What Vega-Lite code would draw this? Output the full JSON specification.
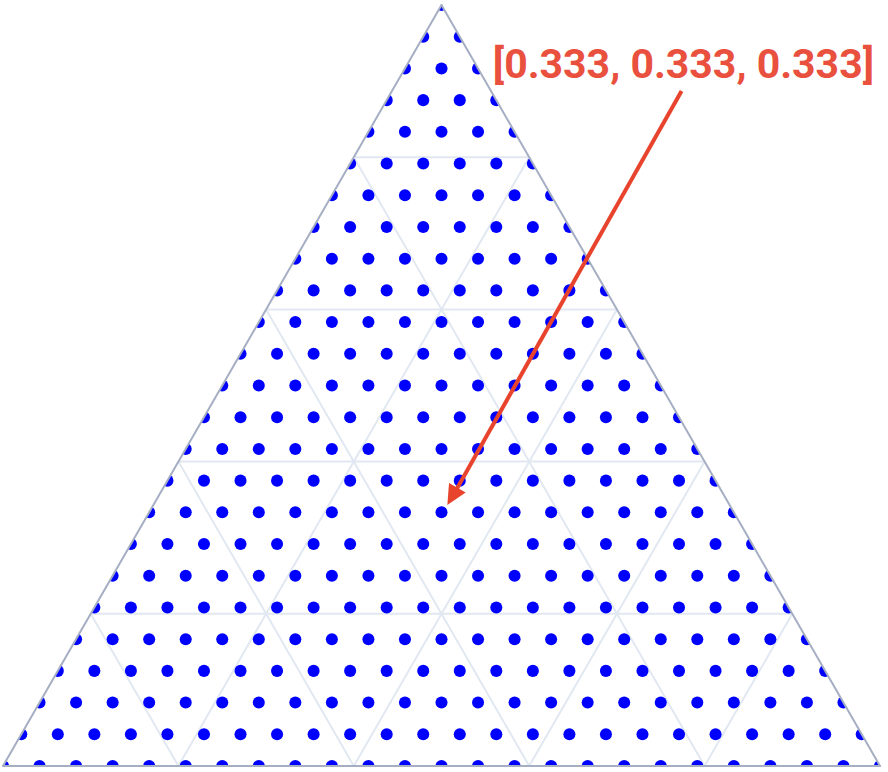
{
  "$schema": "https://vega.github.io/schema/vega-lite/v6.json",
  "width": 877,
  "height": 761,
  "autosize": "none",
  "padding": {"left": 3, "top": 5, "right": 8, "bottom": 6},
  "background": "white",
  "config": {"view": {"stroke": null}},
  "datasets": {
    "pts": [
      {"x":0,"y":0},{"x":1,"y":0},{"x":2,"y":0},{"x":3,"y":0},{"x":4,"y":0},{"x":5,"y":0},{"x":6,"y":0},{"x":7,"y":0},{"x":8,"y":0},{"x":9,"y":0},{"x":10,"y":0},{"x":11,"y":0},{"x":12,"y":0},{"x":13,"y":0},{"x":14,"y":0},{"x":15,"y":0},{"x":16,"y":0},{"x":17,"y":0},{"x":18,"y":0},{"x":19,"y":0},{"x":20,"y":0},{"x":21,"y":0},{"x":22,"y":0},{"x":23,"y":0},{"x":24,"y":0},
      {"x":0.5,"y":1},{"x":1.5,"y":1},{"x":2.5,"y":1},{"x":3.5,"y":1},{"x":4.5,"y":1},{"x":5.5,"y":1},{"x":6.5,"y":1},{"x":7.5,"y":1},{"x":8.5,"y":1},{"x":9.5,"y":1},{"x":10.5,"y":1},{"x":11.5,"y":1},{"x":12.5,"y":1},{"x":13.5,"y":1},{"x":14.5,"y":1},{"x":15.5,"y":1},{"x":16.5,"y":1},{"x":17.5,"y":1},{"x":18.5,"y":1},{"x":19.5,"y":1},{"x":20.5,"y":1},{"x":21.5,"y":1},{"x":22.5,"y":1},{"x":23.5,"y":1},
      {"x":1,"y":2},{"x":2,"y":2},{"x":3,"y":2},{"x":4,"y":2},{"x":5,"y":2},{"x":6,"y":2},{"x":7,"y":2},{"x":8,"y":2},{"x":9,"y":2},{"x":10,"y":2},{"x":11,"y":2},{"x":12,"y":2},{"x":13,"y":2},{"x":14,"y":2},{"x":15,"y":2},{"x":16,"y":2},{"x":17,"y":2},{"x":18,"y":2},{"x":19,"y":2},{"x":20,"y":2},{"x":21,"y":2},{"x":22,"y":2},{"x":23,"y":2},
      {"x":1.5,"y":3},{"x":2.5,"y":3},{"x":3.5,"y":3},{"x":4.5,"y":3},{"x":5.5,"y":3},{"x":6.5,"y":3},{"x":7.5,"y":3},{"x":8.5,"y":3},{"x":9.5,"y":3},{"x":10.5,"y":3},{"x":11.5,"y":3},{"x":12.5,"y":3},{"x":13.5,"y":3},{"x":14.5,"y":3},{"x":15.5,"y":3},{"x":16.5,"y":3},{"x":17.5,"y":3},{"x":18.5,"y":3},{"x":19.5,"y":3},{"x":20.5,"y":3},{"x":21.5,"y":3},{"x":22.5,"y":3},
      {"x":2,"y":4},{"x":3,"y":4},{"x":4,"y":4},{"x":5,"y":4},{"x":6,"y":4},{"x":7,"y":4},{"x":8,"y":4},{"x":9,"y":4},{"x":10,"y":4},{"x":11,"y":4},{"x":12,"y":4},{"x":13,"y":4},{"x":14,"y":4},{"x":15,"y":4},{"x":16,"y":4},{"x":17,"y":4},{"x":18,"y":4},{"x":19,"y":4},{"x":20,"y":4},{"x":21,"y":4},{"x":22,"y":4},
      {"x":2.5,"y":5},{"x":3.5,"y":5},{"x":4.5,"y":5},{"x":5.5,"y":5},{"x":6.5,"y":5},{"x":7.5,"y":5},{"x":8.5,"y":5},{"x":9.5,"y":5},{"x":10.5,"y":5},{"x":11.5,"y":5},{"x":12.5,"y":5},{"x":13.5,"y":5},{"x":14.5,"y":5},{"x":15.5,"y":5},{"x":16.5,"y":5},{"x":17.5,"y":5},{"x":18.5,"y":5},{"x":19.5,"y":5},{"x":20.5,"y":5},{"x":21.5,"y":5},
      {"x":3,"y":6},{"x":4,"y":6},{"x":5,"y":6},{"x":6,"y":6},{"x":7,"y":6},{"x":8,"y":6},{"x":9,"y":6},{"x":10,"y":6},{"x":11,"y":6},{"x":12,"y":6},{"x":13,"y":6},{"x":14,"y":6},{"x":15,"y":6},{"x":16,"y":6},{"x":17,"y":6},{"x":18,"y":6},{"x":19,"y":6},{"x":20,"y":6},{"x":21,"y":6},
      {"x":3.5,"y":7},{"x":4.5,"y":7},{"x":5.5,"y":7},{"x":6.5,"y":7},{"x":7.5,"y":7},{"x":8.5,"y":7},{"x":9.5,"y":7},{"x":10.5,"y":7},{"x":11.5,"y":7},{"x":12.5,"y":7},{"x":13.5,"y":7},{"x":14.5,"y":7},{"x":15.5,"y":7},{"x":16.5,"y":7},{"x":17.5,"y":7},{"x":18.5,"y":7},{"x":19.5,"y":7},{"x":20.5,"y":7},
      {"x":4,"y":8},{"x":5,"y":8},{"x":6,"y":8},{"x":7,"y":8},{"x":8,"y":8},{"x":9,"y":8},{"x":10,"y":8},{"x":11,"y":8},{"x":12,"y":8},{"x":13,"y":8},{"x":14,"y":8},{"x":15,"y":8},{"x":16,"y":8},{"x":17,"y":8},{"x":18,"y":8},{"x":19,"y":8},{"x":20,"y":8},
      {"x":4.5,"y":9},{"x":5.5,"y":9},{"x":6.5,"y":9},{"x":7.5,"y":9},{"x":8.5,"y":9},{"x":9.5,"y":9},{"x":10.5,"y":9},{"x":11.5,"y":9},{"x":12.5,"y":9},{"x":13.5,"y":9},{"x":14.5,"y":9},{"x":15.5,"y":9},{"x":16.5,"y":9},{"x":17.5,"y":9},{"x":18.5,"y":9},{"x":19.5,"y":9},
      {"x":5,"y":10},{"x":6,"y":10},{"x":7,"y":10},{"x":8,"y":10},{"x":9,"y":10},{"x":10,"y":10},{"x":11,"y":10},{"x":12,"y":10},{"x":13,"y":10},{"x":14,"y":10},{"x":15,"y":10},{"x":16,"y":10},{"x":17,"y":10},{"x":18,"y":10},{"x":19,"y":10},
      {"x":5.5,"y":11},{"x":6.5,"y":11},{"x":7.5,"y":11},{"x":8.5,"y":11},{"x":9.5,"y":11},{"x":10.5,"y":11},{"x":11.5,"y":11},{"x":12.5,"y":11},{"x":13.5,"y":11},{"x":14.5,"y":11},{"x":15.5,"y":11},{"x":16.5,"y":11},{"x":17.5,"y":11},{"x":18.5,"y":11},
      {"x":6,"y":12},{"x":7,"y":12},{"x":8,"y":12},{"x":9,"y":12},{"x":10,"y":12},{"x":11,"y":12},{"x":12,"y":12},{"x":13,"y":12},{"x":14,"y":12},{"x":15,"y":12},{"x":16,"y":12},{"x":17,"y":12},{"x":18,"y":12},
      {"x":6.5,"y":13},{"x":7.5,"y":13},{"x":8.5,"y":13},{"x":9.5,"y":13},{"x":10.5,"y":13},{"x":11.5,"y":13},{"x":12.5,"y":13},{"x":13.5,"y":13},{"x":14.5,"y":13},{"x":15.5,"y":13},{"x":16.5,"y":13},{"x":17.5,"y":13},
      {"x":7,"y":14},{"x":8,"y":14},{"x":9,"y":14},{"x":10,"y":14},{"x":11,"y":14},{"x":12,"y":14},{"x":13,"y":14},{"x":14,"y":14},{"x":15,"y":14},{"x":16,"y":14},{"x":17,"y":14},
      {"x":7.5,"y":15},{"x":8.5,"y":15},{"x":9.5,"y":15},{"x":10.5,"y":15},{"x":11.5,"y":15},{"x":12.5,"y":15},{"x":13.5,"y":15},{"x":14.5,"y":15},{"x":15.5,"y":15},{"x":16.5,"y":15},
      {"x":8,"y":16},{"x":9,"y":16},{"x":10,"y":16},{"x":11,"y":16},{"x":12,"y":16},{"x":13,"y":16},{"x":14,"y":16},{"x":15,"y":16},{"x":16,"y":16},
      {"x":8.5,"y":17},{"x":9.5,"y":17},{"x":10.5,"y":17},{"x":11.5,"y":17},{"x":12.5,"y":17},{"x":13.5,"y":17},{"x":14.5,"y":17},{"x":15.5,"y":17},
      {"x":9,"y":18},{"x":10,"y":18},{"x":11,"y":18},{"x":12,"y":18},{"x":13,"y":18},{"x":14,"y":18},{"x":15,"y":18},
      {"x":9.5,"y":19},{"x":10.5,"y":19},{"x":11.5,"y":19},{"x":12.5,"y":19},{"x":13.5,"y":19},{"x":14.5,"y":19},
      {"x":10,"y":20},{"x":11,"y":20},{"x":12,"y":20},{"x":13,"y":20},{"x":14,"y":20},
      {"x":10.5,"y":21},{"x":11.5,"y":21},{"x":12.5,"y":21},{"x":13.5,"y":21},
      {"x":11,"y":22},{"x":12,"y":22},{"x":13,"y":22},
      {"x":11.5,"y":23},{"x":12.5,"y":23},
      {"x":12,"y":24}
    ],
    "grid": [
      {"x":2.4,"y":4.8,"x2":21.6,"y2":4.8},
      {"x":4.8,"y":9.6,"x2":19.2,"y2":9.6},
      {"x":7.2,"y":14.4,"x2":16.8,"y2":14.4},
      {"x":9.6,"y":19.2,"x2":14.4,"y2":19.2},
      {"x":4.8,"y":0,"x2":14.4,"y2":19.2},
      {"x":9.6,"y":0,"x2":16.8,"y2":14.4},
      {"x":14.4,"y":0,"x2":19.2,"y2":9.6},
      {"x":19.2,"y":0,"x2":21.6,"y2":4.8},
      {"x":4.8,"y":0,"x2":2.4,"y2":4.8},
      {"x":9.6,"y":0,"x2":4.8,"y2":9.6},
      {"x":14.4,"y":0,"x2":7.2,"y2":14.4},
      {"x":19.2,"y":0,"x2":9.6,"y2":19.2}
    ],
    "mask": [
      {"x":0,"y":0,"top":24},
      {"x":12,"y":24,"top":24},
      {"x":24,"y":0,"top":24}
    ],
    "border": [
      {"x":0,"y":0,"x2":24,"y2":0},
      {"x":0,"y":0,"x2":12,"y2":24},
      {"x":24,"y":0,"x2":12,"y2":24}
    ],
    "note": [
      {"x":18.62,"y":21.7,"label":"[0.333, 0.333, 0.333]","x0":18.57,"y0":21.29,"x1":12.3,"y1":8.5,"tx":12.16,"ty":8.23}
    ]
  },
  "layer": [
    {
      "data": {"name": "grid"},
      "mark": {"type": "rule", "color": "#e2e8f2", "strokeWidth": 2},
      "encoding": {
        "x": {"field": "x", "type": "quantitative", "scale": {"domain": [0, 24], "nice": false, "zero": false}, "axis": null},
        "y": {"field": "y", "type": "quantitative", "scale": {"domain": [0, 24], "nice": false, "zero": false}, "axis": null},
        "x2": {"field": "x2"},
        "y2": {"field": "y2"}
      }
    },
    {
      "data": {"name": "pts"},
      "mark": {"type": "circle", "color": "#0000ff", "size": 145, "opacity": 1, "clip": true},
      "encoding": {
        "x": {"field": "x", "type": "quantitative"},
        "y": {"field": "y", "type": "quantitative"}
      }
    },
    {
      "data": {"name": "mask"},
      "mark": {"type": "area", "color": "white", "opacity": 1, "clip": true},
      "encoding": {
        "x": {"field": "x", "type": "quantitative"},
        "y": {"field": "y", "type": "quantitative"},
        "y2": {"field": "top"}
      }
    },
    {
      "data": {"name": "border"},
      "mark": {"type": "rule", "color": "#a5aec3", "strokeWidth": 2, "strokeCap": "round"},
      "encoding": {
        "x": {"field": "x", "type": "quantitative"},
        "y": {"field": "y", "type": "quantitative"},
        "x2": {"field": "x2"},
        "y2": {"field": "y2"}
      }
    },
    {
      "data": {"name": "note"},
      "mark": {"type": "text", "font": "Roboto", "fontWeight": "bold", "fontSize": 41, "color": "#e9503e", "align": "center", "baseline": "alphabetic"},
      "encoding": {
        "x": {"field": "x", "type": "quantitative"},
        "y": {"field": "y", "type": "quantitative"},
        "text": {"field": "label"}
      }
    },
    {
      "data": {"name": "note"},
      "mark": {"type": "rule", "color": "#e8432d", "strokeWidth": 4},
      "encoding": {
        "x": {"field": "x0", "type": "quantitative"},
        "y": {"field": "y0", "type": "quantitative"},
        "x2": {"field": "x1"},
        "y2": {"field": "y1"}
      }
    },
    {
      "data": {"name": "note"},
      "mark": {"type": "point", "shape": "M0,0L-0.48,1L0.48,1Z", "size": 1600, "filled": true, "color": "#e8432d", "opacity": 1, "angle": 210, "strokeWidth": 0},
      "encoding": {
        "x": {"field": "tx", "type": "quantitative"},
        "y": {"field": "ty", "type": "quantitative"}
      }
    }
  ]
}
